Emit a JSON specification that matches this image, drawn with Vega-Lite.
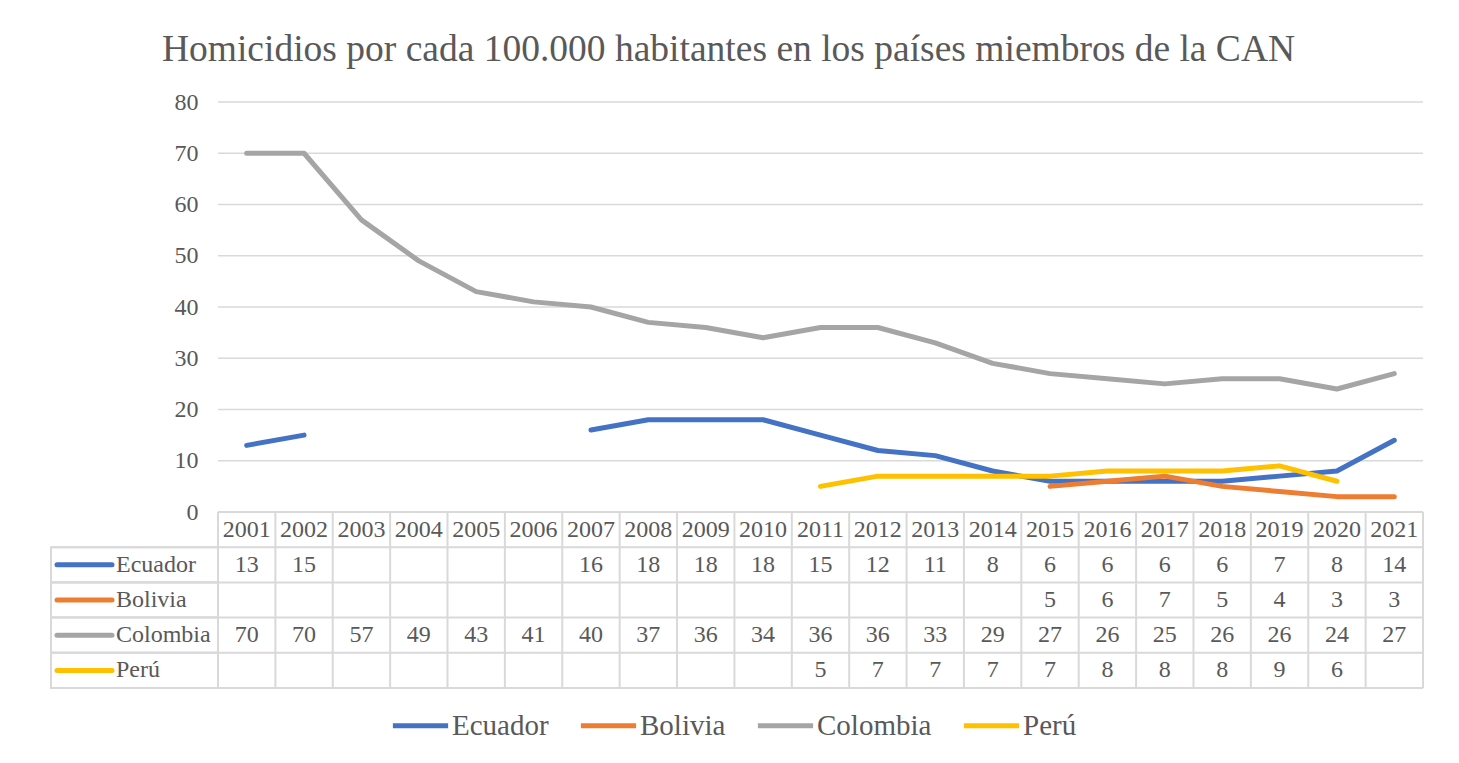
{
  "$schema": "https://vega.github.io/schema/vega-lite/v6.json",
  "background": "white",
  "padding": {"left": 47, "top": 30, "right": 30, "bottom": 10},
  "bounds": "flush",
  "title": {
    "text": "Homicidios por cada 100.000 habitantes en los países miembros de la CAN",
    "font": "Times New Roman, Liberation Serif, DejaVu Serif, serif",
    "fontSize": 37.5,
    "fontWeight": "normal",
    "color": "#595959",
    "anchor": "middle",
    "offset": 22,
    "dx": -7
  },
  "config": {
    "font": "Times New Roman, Liberation Serif, DejaVu Serif, serif",
    "view": {"stroke": null},
    "concat": {"spacing": 0},
    "legend": {
      "orient": "none",
      "legendX": 339,
      "legendY": 593,
      "direction": "horizontal",
      "symbolType": "stroke",
      "symbolSize": 3050,
      "symbolStrokeWidth": 5,
      "labelFont": "Times New Roman, Liberation Serif, DejaVu Serif, serif",
      "labelFontSize": 29,
      "labelColor": "#595959",
      "labelOffset": 1,
      "columnPadding": 21,
      "padding": 0,
      "title": null
    }
  },
  "datasets": {
    "series": [
      {"country": "Ecuador", "year": 2001, "value": 13},
      {"country": "Ecuador", "year": 2002, "value": 15},
      {"country": "Ecuador", "year": 2003, "value": null},
      {"country": "Ecuador", "year": 2004, "value": null},
      {"country": "Ecuador", "year": 2005, "value": null},
      {"country": "Ecuador", "year": 2006, "value": null},
      {"country": "Ecuador", "year": 2007, "value": 16},
      {"country": "Ecuador", "year": 2008, "value": 18},
      {"country": "Ecuador", "year": 2009, "value": 18},
      {"country": "Ecuador", "year": 2010, "value": 18},
      {"country": "Ecuador", "year": 2011, "value": 15},
      {"country": "Ecuador", "year": 2012, "value": 12},
      {"country": "Ecuador", "year": 2013, "value": 11},
      {"country": "Ecuador", "year": 2014, "value": 8},
      {"country": "Ecuador", "year": 2015, "value": 6},
      {"country": "Ecuador", "year": 2016, "value": 6},
      {"country": "Ecuador", "year": 2017, "value": 6},
      {"country": "Ecuador", "year": 2018, "value": 6},
      {"country": "Ecuador", "year": 2019, "value": 7},
      {"country": "Ecuador", "year": 2020, "value": 8},
      {"country": "Ecuador", "year": 2021, "value": 14},
      {"country": "Bolivia", "year": 2015, "value": 5},
      {"country": "Bolivia", "year": 2016, "value": 6},
      {"country": "Bolivia", "year": 2017, "value": 7},
      {"country": "Bolivia", "year": 2018, "value": 5},
      {"country": "Bolivia", "year": 2019, "value": 4},
      {"country": "Bolivia", "year": 2020, "value": 3},
      {"country": "Bolivia", "year": 2021, "value": 3},
      {"country": "Colombia", "year": 2001, "value": 70},
      {"country": "Colombia", "year": 2002, "value": 70},
      {"country": "Colombia", "year": 2003, "value": 57},
      {"country": "Colombia", "year": 2004, "value": 49},
      {"country": "Colombia", "year": 2005, "value": 43},
      {"country": "Colombia", "year": 2006, "value": 41},
      {"country": "Colombia", "year": 2007, "value": 40},
      {"country": "Colombia", "year": 2008, "value": 37},
      {"country": "Colombia", "year": 2009, "value": 36},
      {"country": "Colombia", "year": 2010, "value": 34},
      {"country": "Colombia", "year": 2011, "value": 36},
      {"country": "Colombia", "year": 2012, "value": 36},
      {"country": "Colombia", "year": 2013, "value": 33},
      {"country": "Colombia", "year": 2014, "value": 29},
      {"country": "Colombia", "year": 2015, "value": 27},
      {"country": "Colombia", "year": 2016, "value": 26},
      {"country": "Colombia", "year": 2017, "value": 25},
      {"country": "Colombia", "year": 2018, "value": 26},
      {"country": "Colombia", "year": 2019, "value": 26},
      {"country": "Colombia", "year": 2020, "value": 24},
      {"country": "Colombia", "year": 2021, "value": 27},
      {"country": "Perú", "year": 2011, "value": 5},
      {"country": "Perú", "year": 2012, "value": 7},
      {"country": "Perú", "year": 2013, "value": 7},
      {"country": "Perú", "year": 2014, "value": 7},
      {"country": "Perú", "year": 2015, "value": 7},
      {"country": "Perú", "year": 2016, "value": 8},
      {"country": "Perú", "year": 2017, "value": 8},
      {"country": "Perú", "year": 2018, "value": 8},
      {"country": "Perú", "year": 2019, "value": 9},
      {"country": "Perú", "year": 2020, "value": 6}
    ],
    "years": [
      {"year": 2001}, {"year": 2002}, {"year": 2003}, {"year": 2004}, {"year": 2005},
      {"year": 2006}, {"year": 2007}, {"year": 2008}, {"year": 2009}, {"year": 2010},
      {"year": 2011}, {"year": 2012}, {"year": 2013}, {"year": 2014}, {"year": 2015},
      {"year": 2016}, {"year": 2017}, {"year": 2018}, {"year": 2019}, {"year": 2020},
      {"year": 2021}
    ],
    "ticks": [
      {"t": 0}, {"t": 10}, {"t": 20}, {"t": 30}, {"t": 40}, {"t": 50}, {"t": 60}, {"t": 70}, {"t": 80}
    ],
    "rows": [
      {"country": "Ecuador"}, {"country": "Bolivia"}, {"country": "Colombia"}, {"country": "Perú"}
    ],
    "one": [{}]
  },
  "spacing": 0,
  "resolve": {"scale": {"color": "shared"}},
  "vconcat": [
    {
      "width": 1372,
      "height": 410,
      "layer": [
        {
          "data": {"name": "ticks"},
          "mark": {"type": "rule", "color": "#D9D9D9", "strokeWidth": 1.5, "xOffset": -28.69, "x2Offset": 28.69},
          "encoding": {
            "x": {"datum": 2001, "type": "quantitative", "scale": {"domain": [1997.59, 2021.5], "nice": false, "zero": false}, "axis": null},
            "x2": {"datum": 2021},
            "y": {
              "field": "t", "type": "quantitative",
              "scale": {"domain": [0, 80], "nice": false},
              "axis": {
                "offset": -167, "domain": false, "ticks": false, "grid": false,
                "labelPadding": 20, "values": [0, 10, 20, 30, 40, 50, 60, 70, 80],
                "title": null, "labelFont": "Times New Roman, Liberation Serif, DejaVu Serif, serif", "labelFontSize": 24,
                "labelColor": "#595959"
              }
            }
          }
        },
        {
          "data": {"name": "series"},
          "mark": {"type": "line", "strokeWidth": 5, "strokeCap": "round", "strokeJoin": "round"},
          "encoding": {
            "x": {"field": "year", "type": "quantitative"},
            "y": {"field": "value", "type": "quantitative"},
            "color": {
              "field": "country", "type": "nominal",
              "scale": {"domain": ["Ecuador", "Bolivia", "Colombia", "Perú"], "range": ["#4472C4", "#ED7D31", "#A5A5A5", "#FFC000"]}
            }
          }
        }
      ]
    },
    {
      "width": 1372,
      "height": 176,
      "layer": [
        {
          "data": {"name": "rows"},
          "mark": {"type": "rect", "fill": "white", "stroke": "#D9D9D9", "strokeWidth": 2, "x2Offset": -28.69},
          "encoding": {
            "x": {"datum": 1997.59, "type": "quantitative", "scale": {"domain": [1997.59, 2021.5], "nice": false, "zero": false}, "axis": null},
            "x2": {"datum": 2001},
            "y": {
              "field": "country", "type": "nominal",
              "scale": {"type": "band", "domain": ["hdr", "Ecuador", "Bolivia", "Colombia", "Perú"], "paddingInner": 0, "paddingOuter": 0},
              "axis": null
            }
          }
        },
        {
          "data": {"name": "rows"},
          "mark": {"type": "rule", "color": "#D9D9D9", "strokeWidth": 2},
          "encoding": {"y": {"field": "country", "type": "nominal", "bandPosition": 0}}
        },
        {
          "data": {"name": "one"},
          "mark": {"type": "rule", "color": "#D9D9D9", "strokeWidth": 2},
          "encoding": {"y": {"datum": "Perú", "type": "nominal", "bandPosition": 1}}
        },
        {
          "data": {"name": "one"},
          "mark": {"type": "rule", "color": "#D9D9D9", "strokeWidth": 2, "xOffset": -28.69, "x2Offset": 28.69},
          "encoding": {
            "y": {"datum": "hdr", "type": "nominal", "bandPosition": 0},
            "x": {"datum": 2001, "type": "quantitative"},
            "x2": {"datum": 2021}
          }
        },
        {
          "data": {"name": "years"},
          "mark": {"type": "rule", "color": "#D9D9D9", "strokeWidth": 2, "xOffset": 28.69},
          "encoding": {"x": {"field": "year", "type": "quantitative"}}
        },
        {
          "data": {"name": "one"},
          "mark": {"type": "rule", "color": "#D9D9D9", "strokeWidth": 2, "xOffset": -28.69},
          "encoding": {"x": {"datum": 2001, "type": "quantitative"}}
        },
        {
          "data": {"name": "years"},
          "mark": {"type": "text", "font": "Times New Roman, Liberation Serif, DejaVu Serif, serif", "fontSize": 24, "color": "#595959"},
          "encoding": {
            "x": {"field": "year", "type": "quantitative"},
            "y": {"datum": "hdr", "type": "nominal"},
            "text": {"field": "year", "type": "nominal"}
          }
        },
        {
          "data": {"name": "series"},
          "transform": [{"filter": "isValid(datum.value)"}],
          "mark": {"type": "text", "font": "Times New Roman, Liberation Serif, DejaVu Serif, serif", "fontSize": 24, "color": "#595959"},
          "encoding": {
            "x": {"field": "year", "type": "quantitative"},
            "y": {"field": "country", "type": "nominal"},
            "text": {"field": "value", "type": "nominal"}
          }
        },
        {
          "data": {"name": "rows"},
          "mark": {"type": "text", "font": "Times New Roman, Liberation Serif, DejaVu Serif, serif", "fontSize": 24, "color": "#595959", "align": "left", "dx": 65},
          "encoding": {
            "x": {"datum": 1997.59, "type": "quantitative"},
            "y": {"field": "country", "type": "nominal"},
            "text": {"field": "country", "type": "nominal"}
          }
        },
        {
          "data": {"name": "rows"},
          "mark": {"type": "point", "shape": "stroke", "size": 3025, "strokeWidth": 5, "strokeCap": "round", "filled": false, "opacity": 1, "xOffset": 33.5},
          "encoding": {
            "x": {"datum": 1997.59, "type": "quantitative"},
            "y": {"field": "country", "type": "nominal"},
            "color": {"field": "country", "type": "nominal"}
          }
        }
      ]
    }
  ]
}
